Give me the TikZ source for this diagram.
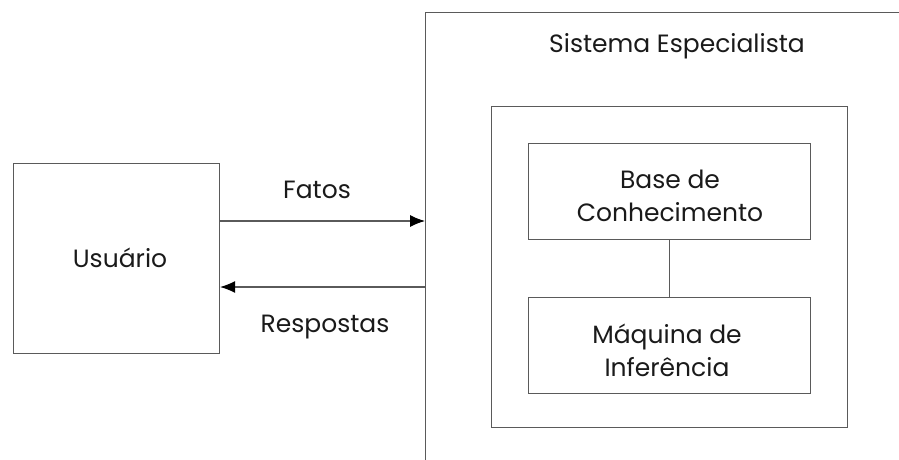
\documentclass[tikz,border=0pt]{standalone}
\usepackage{fontspec}
\setmainfont{Poppins}
\usetikzlibrary{arrows.meta}
\definecolor{ln}{HTML}{5A5A5A}
\definecolor{tx}{HTML}{1A1A1A}
\begin{document}
\begin{tikzpicture}[x=1pt,y=-1pt,
  box/.style={draw=ln, line width=1.1pt, rectangle, inner sep=0pt, anchor=north west},
  lbl/.style={text=tx, font=\fontsize{25}{33}\selectfont, align=center, inner sep=0pt},
  arr/.style={draw=ln, line width=1.1pt, -{Latex[length=15pt,width=12pt,fill=black,color=black]}}]
\useasboundingbox (0,0) rectangle (899,460);
\begin{scope}
\clip (0,0) rectangle (899,460);
\node[box, minimum width=500pt, minimum height=480pt] (sys) at (425,12) {};
\end{scope}
\node[box, minimum width=356pt, minimum height=321pt] (inner) at (491,106) {};
\node[box, minimum width=282pt, minimum height=96pt] (base) at (528,143) {};
\node[box, minimum width=282pt, minimum height=96pt] (maq) at (528,297) {};
\node[box, minimum width=206pt, minimum height=190pt] (usr) at (13,163) {};
\draw[draw=ln, line width=1.1pt] (base.south) -- (maq.north);
\draw[arr] (usr.east |- 0,221) -- (sys.west |- 0,221);
\draw[arr] (sys.west |- 0,287) -- (usr.east |- 0,287);
\node[lbl] (tsys) at (677,46) {Sistema Especialista};
\node[lbl] (tbase) at (670,196) {Base de\\Conhecimento};
\node[lbl] (tmaq) at (667,350) {Máquina de\\Inferência};
\node[lbl] (tusr) at (120,258) {Usuário};
\node[lbl] (tfat) at (317,190) {Fatos};
\node[lbl] (tresp) at (325,327) {Respostas};
\end{tikzpicture}
\end{document}
